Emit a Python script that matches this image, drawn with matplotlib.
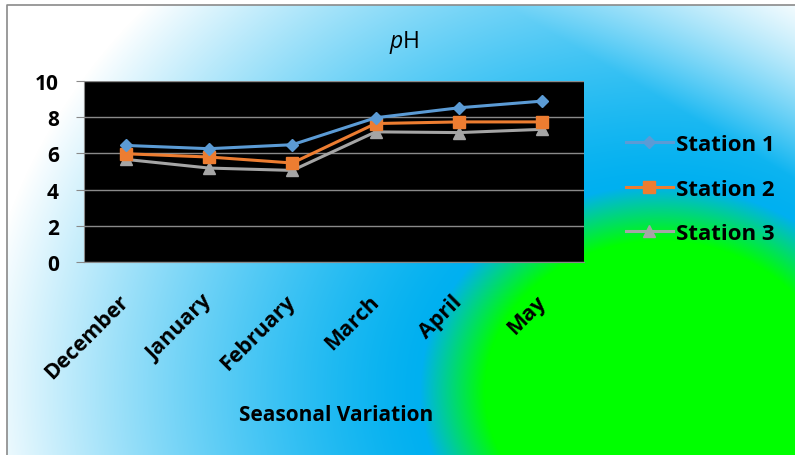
import numpy as np
import matplotlib
matplotlib.use("Agg")
import matplotlib.pyplot as plt

# --- DATA ---
months = ['December', 'January', 'February', 'March', 'April', 'May']
station1 = [6.44, 6.26, 6.48, 7.97, 8.52, 8.89]
station2 = [5.98, 5.80, 5.47, 7.65, 7.74, 7.74]
station3 = [5.67, 5.19, 5.06, 7.19, 7.15, 7.33]
yticks = [0, 2, 4, 6, 8, 10]

# --- STYLE ---
plt.rcParams['font.family'] = ['Open Sans', 'DejaVu Sans']
plt.rcParams['mathtext.fontset'] = 'custom'
plt.rcParams['mathtext.it'] = 'Open Sans:italic'
plt.rcParams['mathtext.rm'] = 'Open Sans'

W, H = 795, 456
fig = plt.figure(figsize=(W / 100, H / 100), dpi=100)

# --- BACKGROUND GRADIENT (green -> blue -> white) ---
xx, yy = np.meshgrid(np.arange(W) + 0.5, np.arange(H) + 0.5)
r = np.sqrt(((xx - 660) / 175) ** 2 + ((yy - 392) / 150) ** 2)
green = np.array([0, 255, 0]) / 255
blue = np.array([0, 176, 240]) / 255
white = np.array([1.0, 1.0, 1.0])

t1 = np.clip((r - 1.0) / 0.37, 0, 1)[..., None]
t2 = np.clip((r - 1.37) / 2.53, 0, 1) ** 1.3
# extra lightening toward top-right corner
corner = np.clip(1 - ((W - xx) / 300 + yy / 180), 0, 1) * 0.95
wmix = (1 - (1 - t2) * (1 - corner))[..., None]
img = green * (1 - t1) + blue * t1
img = img * (1 - wmix) + white * wmix
img[:6, :, :] = 1.0
img[:, :7, :] = 1.0

bg = fig.add_axes([0, 0, 1, 1])
bg.imshow(img, extent=(0, W, H, 0), aspect='auto', interpolation='bilinear')
bg.plot([7, 7, W], [H, 6, 6], color='#8a8a8a', lw=1.2)
bg.set_xlim(0, W)
bg.set_ylim(H, 0)
bg.axis('off')

# --- MAIN PLOT ---
ax = fig.add_axes([84 / W, 1 - 263 / H, 500 / W, 181 / H])
ax.set_facecolor('black')
x = np.arange(len(months))

ax.plot(x, station1, color='#5b9bd5', lw=2.2, marker='D', ms=6,
        label='Station 1', zorder=4)
ax.plot(x, station2, color='#ed7d31', lw=2.2, marker='s', ms=8.5,
        label='Station 2', zorder=3)
ax.plot(x, station3, color='#a5a5a5', lw=2.2, marker='^', ms=8,
        label='Station 3', zorder=2)

ax.set_xlim(-0.5, len(months) - 0.5)
ax.set_ylim(0, 10)
ax.set_yticks(yticks)
ax.set_yticklabels([str(v) for v in yticks], fontsize=15, fontweight='bold')
ax.set_xticks(x)
ax.set_xticklabels(months, rotation=45, ha='right', va='center',
                   rotation_mode='anchor', fontsize=15.5, fontweight='bold')
ax.tick_params(axis='x', length=0, pad=26)
ax.tick_params(axis='y', length=6, color='#8a8a8a', pad=12)
ax.grid(axis='y', color='#8a8a8a', lw=1)
for s in ['top', 'right']:
    ax.spines[s].set_visible(False)
for s in ['left', 'bottom']:
    ax.spines[s].set_color('#8a8a8a')

fig.text(404 / W, 1 - 42 / H, r'$\mathit{p}$H', fontsize=16.5,
         ha='center', va='center')
fig.text(336 / W, 1 - 416 / H, 'Seasonal Variation', fontsize=15,
         fontweight='bold', ha='center', va='center')

leg = ax.legend(loc='center left', bbox_to_anchor=(606 / W, 1 - 190 / H),
                bbox_transform=fig.transFigure, frameon=False,
                prop={'size': 16, 'weight': 'bold'}, handlelength=2.1,
                handletextpad=0.15, labelspacing=1.05)

fig.savefig('out.png', dpi=100)
